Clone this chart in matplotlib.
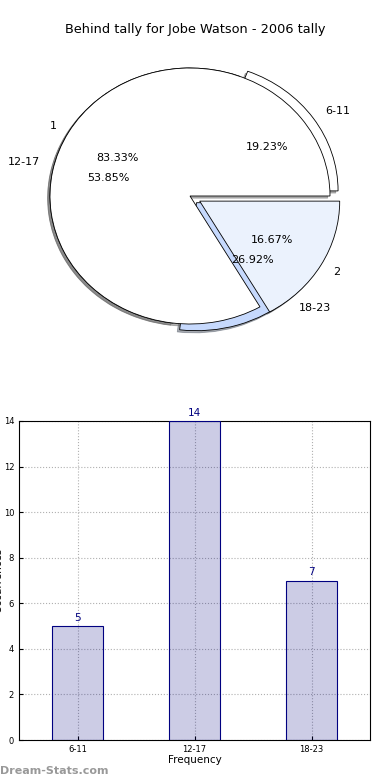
import numpy as np
from matplotlib import pyplot as plt

title = "Behind tally for Jobe Watson - 2006 tally"

# outer pie / bar data
ranges = ["6-11", "12-17", "18-23"]
counts = [5, 14, 7]
range_colors = ["white", "white", "#c6d9fd"]
range_explode = [0.07, 0, 0.07]

# inner pie
groups = ["1", "2"]
group_counts = [5, 1]
group_colors = ["white", "#ebf2fd"]
group_explode = [0, 0.08]

shadow = {"ox": -0.012, "oy": -0.012, "shade": 0.6}

fig = plt.figure(figsize=(3.9, 7.8), dpi=100)
fig.text(0.5, 1 - 30 / 780, title, ha="center", va="center", fontsize=9.3)

# pie axes, stretched to an ellipse like the original
ax = fig.add_axes([15 / 390, 424 / 780, 350 / 390, 320 / 780])
ax.pie(counts, labels=ranges, colors=range_colors, explode=range_explode,
       autopct="%.2f%%", shadow=shadow, textprops={"fontsize": 8},
       wedgeprops={"edgecolor": "black", "linewidth": 0.6})
ax.pie(group_counts, labels=groups, colors=group_colors, explode=group_explode,
       autopct="%.2f%%", shadow=shadow, textprops={"fontsize": 8},
       wedgeprops={"edgecolor": "black", "linewidth": 0.6})
ax.set_aspect("auto")
ax.set_xlim(-1.25, 1.25)
ax.set_ylim(-1.25, 1.25)

# bar axes
bx = fig.add_axes([19 / 390, 40 / 780, 351 / 390, 319 / 780])
pos = np.arange(len(ranges))
bx.bar(pos, counts, width=0.44, color="navy", alpha=0.2, zorder=2)
bx.bar(pos, counts, width=0.44, facecolor="none", edgecolor="navy", linewidth=0.8, zorder=3)
for p, c in zip(pos, counts):
    bx.text(p, c + 0.15, str(c), ha="center", va="bottom", color="navy", fontsize=7.5)
bx.set_xlim(-0.5, 2.5)
bx.set_ylim(0, 14)
bx.set_xticks(pos)
bx.set_xticklabels(ranges)
bx.set_yticks(np.arange(0, 15, 2))
bx.tick_params(labelsize=6, direction="in", length=3)
bx.grid(True, linestyle=":", color="#b0b0b0", linewidth=0.8, zorder=0)
bx.set_axisbelow(True)
bx.set_xlabel("Frequency", fontsize=7.5, labelpad=1)
bx.set_ylabel("Occurrences", fontsize=7.5)
bx.yaxis.set_label_coords(-0.044, 0.5)

fig.text(0.0, 1 - 771 / 780, "Dream-Stats.com", color="#999999", fontsize=8,
         fontweight="bold", ha="left", va="center")

fig.savefig("out.png", dpi=100)
